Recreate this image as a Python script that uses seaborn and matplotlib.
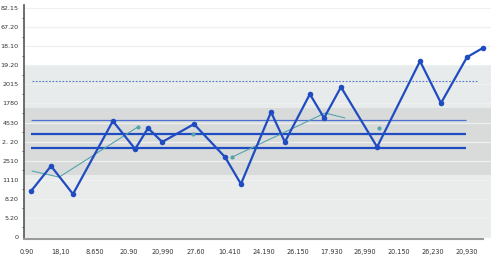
import matplotlib
matplotlib.use("Agg")
import matplotlib.pyplot as plt
import seaborn as sns
import pandas as pd
import numpy as np

# ---- data ----
x_tick_labels = ["0.90", "18,10", "8.650", "20.90", "20,990", "27.60", "10.410",
                 "24.190", "26.150", "17.930", "26,990", "20.150", "26,230", "20,930"]
y_tick_labels = ["0", "5.20", "8.20", "1110", "2510", "2. 20", "4530", "1780",
                 "2015", "19.20", "18.10", "67.20", "82.15"]

main_x = [0.12, 0.71, 1.36, 2.54, 3.20, 3.58, 4.00, 4.94, 5.86, 6.33, 7.22, 7.63,
          8.37, 8.79, 9.29, 10.36, 11.63, 12.25, 13.02, 13.49]
main_y = [2.41, 3.72, 2.25, 6.08, 4.61, 5.71, 4.98, 5.92, 4.19, 2.78, 6.55, 4.98,
          7.49, 6.24, 7.86, 4.72, 9.22, 7.02, 9.43, 9.91]

teal_x = [0.15, 0.95, 3.28, 4.91, 6.07, 8.82, 9.41, 10.41]
teal_y = [3.46, 3.14, 5.77, 5.40, 4.19, 6.50, 6.24, 5.71]
teal_segment = [0, 0, 0, 1, 2, 2, 2, 3]
teal_dot = [False, False, True, True, True, False, False, True]

ref_levels = [8.18, 6.13, 5.40, 4.66]
band_edges = [0.0, 3.25, 6.76, 9.0]

# ---- style ----
sns.set_style("white")
plt.rcParams["font.family"] = ["DejaVu Sans"]

fig = plt.figure(figsize=(5.0, 2.72), dpi=100)
ax = fig.add_axes([0.048, 0.1217, 0.934, 0.859])

ax.set_xlim(-0.09, 13.73)
ax.set_ylim(-0.1, 12.15)

# background bands
band_colors = ["#eaecec", "#d9dbdb", "#e8ebeb"]
for i, c in enumerate(band_colors):
    ax.axhspan(band_edges[i], band_edges[i + 1], color=c, zorder=0, lw=0)

# grid lines
for yv in range(0, 13):
    ax.axhline(yv, color="#eff0f0", lw=0.9, zorder=0.5)

# reference lines
blue = "#1f4cc0"
ax.hlines(ref_levels[0], 0.15, 13.31, colors="#4f74cf", lw=0.8, linestyles=(0, (1.5, 1.5)), zorder=2)
ax.hlines(ref_levels[1], 0.12, 13.0, colors="#4a6fd0", lw=0.9, zorder=2)
ax.hlines(ref_levels[2], 0.12, 13.0, colors=blue, lw=1.6, zorder=2)
ax.hlines(ref_levels[3], 0.12, 13.0, colors=blue, lw=1.6, zorder=2)

# teal series
teal = "#55a3ab"
tdf = pd.DataFrame({"x": teal_x, "y": teal_y, "seg": teal_segment, "dot": teal_dot})
for seg, g in tdf.groupby("seg"):
    if len(g) > 1:
        sns.lineplot(data=g, x="x", y="y", sort=False, estimator=None, color=teal,
                     lw=0.8, ax=ax, zorder=3)
dots = tdf[tdf["dot"]]
sns.scatterplot(data=dots, x="x", y="y", color=teal, s=9, linewidth=0, ax=ax, zorder=3)

# main series
mdf = pd.DataFrame({"x": main_x, "y": main_y})
sns.lineplot(data=mdf, x="x", y="y", sort=False, estimator=None, color=blue, lw=1.6,
             marker="o", markersize=4, markeredgewidth=0, ax=ax, zorder=4)

# axes & ticks
ax.set_xlabel("")
ax.set_ylabel("")
ax.set_xticks(range(len(x_tick_labels)))
ax.set_xticklabels(x_tick_labels)
ax.set_yticks(range(len(y_tick_labels)))
ax.set_yticklabels(y_tick_labels)
ax.set_yticks(np.arange(0.5, 12, 1.0), minor=True)

ax.tick_params(axis="x", direction="in", length=2, width=0.8, color="#555555",
               labelsize=4.7, labelcolor="#333333", pad=7)
ax.tick_params(axis="y", which="major", direction="out", length=2.5, width=0.8,
               color="#444444", labelsize=4.6, labelcolor="#333333", pad=1.5)
ax.tick_params(axis="y", which="minor", direction="out", length=1.5, width=0.6,
               color="#444444", left=True)

for s in ["top", "right"]:
    ax.spines[s].set_visible(False)
ax.spines["left"].set_color("#555555")
ax.spines["left"].set_linewidth(1.2)
ax.spines["bottom"].set_color("#9a9a9a")
ax.spines["bottom"].set_linewidth(1.5)
ax.spines["bottom"].set_bounds(-0.09, 13.5)

fig.savefig("out.png", dpi=100, facecolor="white")
